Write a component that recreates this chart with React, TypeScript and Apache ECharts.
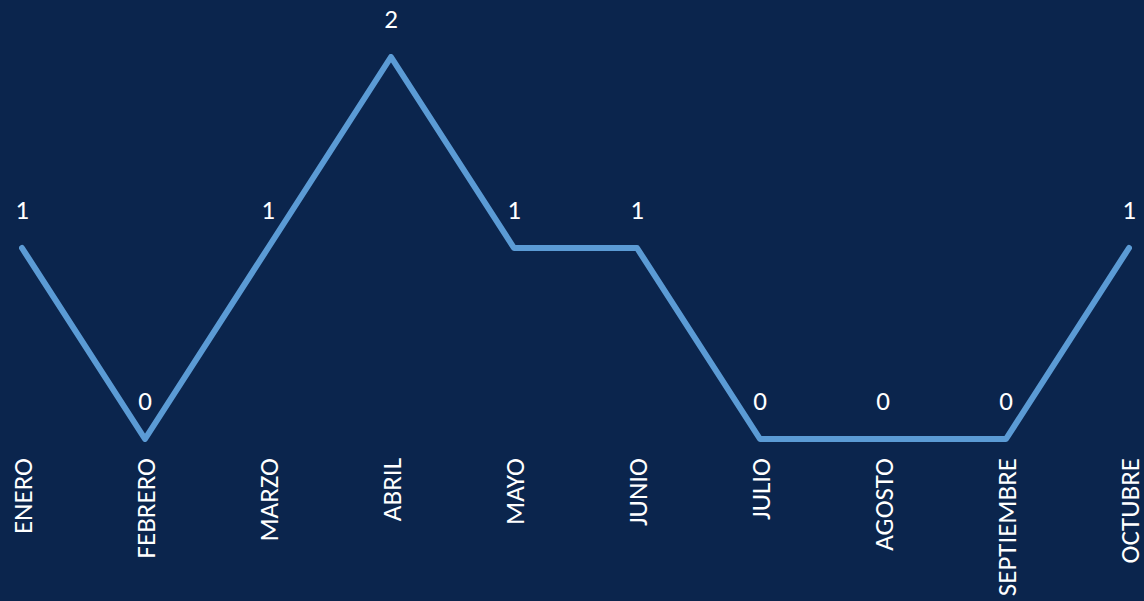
import React, { useEffect, useRef } from "react";
import * as echarts from "echarts";

const categories = ["ENERO", "FEBRERO", "MARZO", "ABRIL", "MAYO", "JUNIO", "JULIO", "AGOSTO", "SEPTIEMBRE", "OCTUBRE"];
const values = [1, 0, 1, 2, 1, 1, 0, 0, 0, 1];

const BG = "#0b254d";
const LINE = "#5b9bd5";
const FONT = "Carlito, 'Open Sans', sans-serif";

export default function App() {
  const ref = useRef<HTMLDivElement>(null);
  useEffect(() => {
    document.body.style.margin = "0";
    const chart = echarts.init(ref.current!, null, { renderer: "svg" });
    chart.setOption({
      animation: false,
      backgroundColor: BG,
      grid: { left: 22, right: 15, top: 57, bottom: 162, containLabel: false },
      xAxis: {
        type: "category",
        data: categories,
        boundaryGap: false,
        axisLine: { show: false },
        axisTick: { show: false },
        splitLine: { show: false },
        axisLabel: {
          rotate: 90,
          margin: 19,
          color: "#ffffff",
          fontFamily: FONT,
          fontSize: 27,
          interval: 0,
        },
      },
      yAxis: {
        type: "value",
        min: 0,
        max: 2,
        show: false,
      },
      series: [
        {
          type: "line",
          data: values,
          showSymbol: true,
          symbol: "circle",
          symbolSize: 0,
          itemStyle: { color: LINE },
          lineStyle: { color: LINE, width: 6, cap: "round", join: "round" },
          label: {
            show: true,
            position: "top",
            distance: 25,
            color: "#ffffff",
            fontFamily: FONT,
            fontSize: 27,
          },
        },
      ],
    });
    return () => chart.dispose();
  }, []);
  return <div ref={ref} style={{ width: 1144, height: 601, background: BG }} />;
}
